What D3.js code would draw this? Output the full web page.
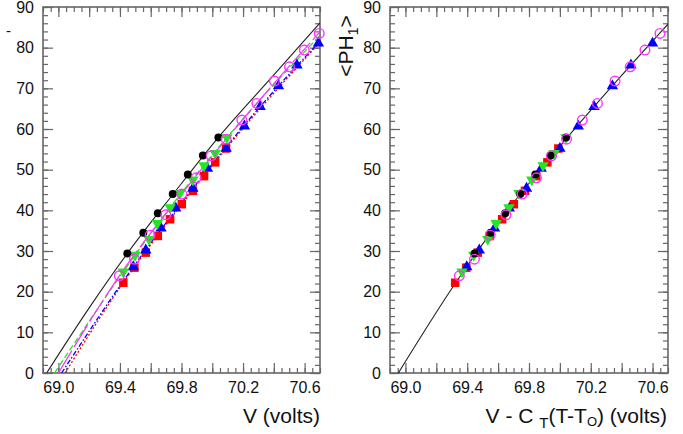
<!DOCTYPE html>
<html>
<head>
<meta charset="utf-8">
<script src="https://cdn.jsdelivr.net/npm/d3@7"></script>
<style>
  body { margin: 0; background: #fff; }
  svg text { font-family: "Liberation Sans", Arial, sans-serif; fill: #111; }
</style>
</head>
<body>
<figure id="ph" style="margin:0"></figure>
<script>
// data: V (volts) and <PH1>
var blackV   = [69.448, 69.552, 69.646, 69.743, 69.841, 69.939, 70.040];
var blackPH  = [29.4, 34.5, 39.3, 44.0, 48.8, 53.5, 57.9];
var magentaV  = [69.396, 69.494, 69.596, 69.698, 69.802, 69.895, 69.993, 70.090, 70.192, 70.290, 70.404, 70.502, 70.598, 70.695];
var magentaPH = [23.9, 28.0, 33.9, 38.9, 44.0, 48.0, 53.4, 57.5, 62.2, 66.3, 71.8, 75.3, 79.4, 83.5];
var greenV   = [69.422, 69.498, 69.589, 69.643, 69.726, 69.790, 69.874, 69.947, 70.019, 70.095];
var greenPH  = [24.9, 29.0, 32.9, 36.8, 40.7, 44.2, 47.5, 51.0, 54.0, 57.9];
var redV     = [69.422, 69.494, 69.568, 69.646, 69.726, 69.802, 69.874, 69.947, 70.019, 70.090];
var redPH    = [22.2, 25.9, 29.6, 33.7, 37.8, 41.5, 44.8, 48.4, 51.8, 55.2];
var blueV    = [69.487, 69.568, 69.667, 69.763, 69.874, 69.969, 70.090, 70.209, 70.311, 70.430, 70.550, 70.690];
var bluePH   = [26.1, 30.2, 35.6, 40.5, 45.4, 50.3, 55.2, 60.7, 65.5, 70.6, 75.7, 81.1];

// C_T(T-T0) per series (volts)
var tempShift = {black: 0, magenta: 0.047, green: 0.056, red: 0.100, blue: 0.090};

// fitted curves, left panel
var blackFitV    = [68.924, 69.2, 69.448, 69.75, 70.04, 70.4, 70.7];
var blackFitPH   = [0, 16.0, 29.4, 44.2, 57.95, 73.3, 86.1];
var magentaFitV  = [69.0, 69.396, 69.8, 70.2, 70.7];
var magentaFitPH = [0, 23.9, 44.0, 62.4, 83.9];
var greenFitV    = [68.975, 69.422, 69.726, 70.095, 70.7];
var greenFitPH   = [0, 24.9, 40.7, 57.9, 83.0];
var blueFitV     = [69.021, 69.487, 69.874, 70.311, 70.7];
var blueFitPH    = [0, 26.1, 45.4, 65.5, 81.6];
var redFitV      = [69.043, 69.422, 69.726, 70.090, 70.7];
var redFitPH     = [0, 22.2, 37.8, 55.2, 81.3];
// common curve, right panel
var allFitV  = [68.954, 69.322, 69.647, 70.0, 70.4, 70.7];
var allFitPH = [0, 22.0, 39.3, 55.8, 73.2, 85.8];

var xTickLabels = [69.0, 69.4, 69.8, 70.2, 70.6];
var yTickLabels = [0, 10, 20, 30, 40, 50, 60, 70, 80, 90];

var W = 683, H = 434;
var svg = d3.select("figure#ph").append("svg")
    .attr("width", W).attr("height", H);

var y = d3.scaleLinear().domain([0, 90]).range([373, 7]);

var series = [
  {key: "red",     v: redV,     ph: redPH,     fv: redFitV,     fph: redFitPH,     color: "#ff0000", dash: "2,2",       shape: "square"},
  {key: "blue",    v: blueV,    ph: bluePH,    fv: blueFitV,    fph: blueFitPH,    color: "#0000ff", dash: "5,2,1.5,2", shape: "up"},
  {key: "green",   v: greenV,   ph: greenPH,   fv: greenFitV,   fph: greenFitPH,   color: "#22e622", dash: "6,3",       shape: "down"},
  {key: "black",   v: blackV,   ph: blackPH,   fv: blackFitV,   fph: blackFitPH,   color: "#000000", dash: null,        shape: "dot"},
  {key: "magenta", v: magentaV, ph: magentaPH, fv: magentaFitV, fph: magentaFitPH, color: "#ff33ff", dash: "26,4",      shape: "ring"}
];

function panel(x0, x1, id) {
  var x = d3.scaleLinear().domain([68.9, 70.7]).range([x0, x1]);
  var g = svg.append("g");

  g.append("clipPath").attr("id", id)
    .append("rect").attr("x", x0).attr("y", 7).attr("width", x1 - x0).attr("height", 366);

  // ticks on all four sides, pointing inwards
  var xMinor = d3.range(0, 37).map(function(i) { return +(68.9 + i * 0.05).toFixed(2); });
  var xMajor = d3.range(0, 9).map(function(i) { return +(69.0 + i * 0.2).toFixed(1); });
  var yMinor = d3.range(0, 46).map(function(i) { return i * 2; });

  function lbl(d) {
    return xTickLabels.indexOf(d) >= 0 ? d3.format(".1f")(d) : "";
  }
  var axes = [
    g.append("g").attr("transform", "translate(0,373)").call(d3.axisBottom(x).tickValues(xMinor).tickSize(-5).tickFormat("")),
    g.append("g").attr("transform", "translate(0,373)").call(d3.axisBottom(x).tickValues(xMajor).tickSize(-10).tickPadding(9).tickFormat(lbl)),
    g.append("g").attr("transform", "translate(0,7)").call(d3.axisTop(x).tickValues(xMinor).tickSize(-5).tickFormat("")),
    g.append("g").attr("transform", "translate(0,7)").call(d3.axisTop(x).tickValues(xMajor).tickSize(-10).tickFormat("")),
    g.append("g").attr("transform", "translate(" + x0 + ",0)").call(d3.axisLeft(y).tickValues(yMinor).tickSize(-5).tickFormat("")),
    g.append("g").attr("transform", "translate(" + x0 + ",0)").call(d3.axisLeft(y).tickValues(yTickLabels).tickSize(-10).tickPadding(9)),
    g.append("g").attr("transform", "translate(" + x1 + ",0)").call(d3.axisRight(y).tickValues(yMinor).tickSize(-5).tickFormat("")),
    g.append("g").attr("transform", "translate(" + x1 + ",0)").call(d3.axisRight(y).tickValues(yTickLabels).tickSize(-10).tickFormat(""))
  ];
  axes.forEach(function(a) {
    a.select(".domain").remove();
    a.selectAll("line").attr("stroke", "#666").attr("stroke-width", 1.2);
    a.selectAll("text").style("font-size", "16px").attr("fill", "#111");
  });

  g.append("rect")
    .attr("x", x0).attr("y", 7).attr("width", x1 - x0).attr("height", 366)
    .attr("fill", "none").attr("stroke", "#666").attr("stroke-width", 1.6);

  return {g: g, x: x};
}

function drawMarkers(g, pts, s) {
  var grp = g.append("g");
  if (s.shape == "dot") {
    grp.selectAll("circle").data(pts).enter().append("circle")
      .attr("cx", function(d) { return d[0]; }).attr("cy", function(d) { return d[1]; })
      .attr("r", 4).attr("fill", s.color);
  } else if (s.shape == "ring") {
    grp.selectAll("circle").data(pts).enter().append("circle")
      .attr("cx", function(d) { return d[0]; }).attr("cy", function(d) { return d[1]; })
      .attr("r", 4.8).attr("fill", "none").attr("stroke", s.color).attr("stroke-width", 1.4);
  } else {
    var sym = s.shape == "square" ? d3.symbol(d3.symbolSquare, 72) : d3.symbol(d3.symbolTriangle, 56);
    grp.selectAll("path").data(pts).enter().append("path")
      .attr("d", sym)
      .attr("transform", function(d) {
        return "translate(" + d[0] + "," + d[1] + ")" + (s.shape == "down" ? " rotate(180)" : "");
      })
      .attr("fill", s.color);
  }
}

// left panel
var L = panel(43, 320, "clipL");
var lineL = d3.line().curve(d3.curveMonotoneX)
  .x(function(d) { return L.x(d[0]); }).y(function(d) { return y(d[1]); });
series.forEach(function(s) {
  L.g.append("path")
    .datum(s.fv.map(function(v, i) { return [v, s.fph[i]]; }))
    .attr("clip-path", "url(#clipL)")
    .attr("d", lineL)
    .attr("fill", "none")
    .attr("stroke", s.key == "black" ? "#222" : s.color)
    .attr("stroke-width", s.key == "black" ? 1.1 : 1.3)
    .attr("stroke-dasharray", s.dash);
});
series.forEach(function(s) {
  drawMarkers(L.g, s.v.map(function(v, i) { return [L.x(v), y(s.ph[i])]; }), s);
});

// right panel: V - C_T(T-T0)
var R = panel(390, 668, "clipR");
var lineR = d3.line().curve(d3.curveMonotoneX)
  .x(function(d) { return R.x(d[0]); }).y(function(d) { return y(d[1]); });
R.g.append("path")
  .datum(allFitV.map(function(v, i) { return [v, allFitPH[i]]; }))
  .attr("clip-path", "url(#clipR)")
  .attr("d", lineR)
  .attr("fill", "none").attr("stroke", "#222").attr("stroke-width", 1.1);
series.forEach(function(s) {
  drawMarkers(R.g, s.v.map(function(v, i) { return [R.x(v - tempShift[s.key]), y(s.ph[i])]; }), s);
});

// titles
svg.append("text").attr("x", 320).attr("y", 423).attr("text-anchor", "end")
  .style("font-size", "21px").text("V (volts)");

var xt = svg.append("text").attr("x", 667).attr("y", 423).attr("text-anchor", "end")
  .style("font-size", "21px");
xt.append("tspan").text("V - C ");
xt.append("tspan").attr("dy", 5).style("font-size", "15px").text("T");
xt.append("tspan").attr("dy", -5).text("(T-T");
xt.append("tspan").attr("dy", 3).style("font-size", "13px").text("O");
xt.append("tspan").attr("dy", -3).text(") (volts)");

var yt = svg.append("text").attr("transform", "translate(353,46) rotate(-90)")
  .attr("text-anchor", "middle").style("font-size", "21px");
yt.append("tspan").text("<PH");
yt.append("tspan").attr("dy", 5).style("font-size", "14px").text("1");
yt.append("tspan").attr("dy", -5).text(">");

svg.append("text").attr("x", 6).attr("y", 36).style("font-size", "15px").text("-");
</script>
</body>
</html>
